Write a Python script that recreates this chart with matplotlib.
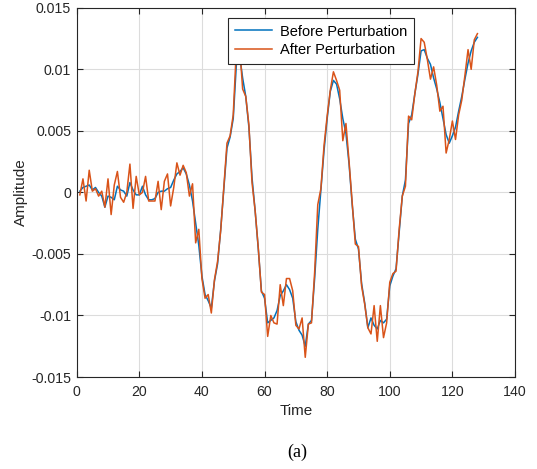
import matplotlib
matplotlib.use("Agg")
import matplotlib.pyplot as plt
import numpy as np

time = np.arange(1, 129)

before_milli = [
    0.1, 0.4, 0.5, 0.6, 0.2, 0.4, 0.0, -0.3, -1.2, -0.3,
    -0.4, -0.6, 0.5, 0.2, 0.1, -0.3, 0.8, 0.2, -0.2, -0.2,
    0.5, -0.2, -0.6, -0.6, -0.5, 0.0, 0.1, 0.1, 0.3, 0.4,
    1.0, 1.5, 1.7, 2.0, 1.5, 0.6, -0.7, -2.5, -4.3, -6.8,
    -8.3, -8.8, -9.4, -7.2, -5.8, -3.0, 0.3, 3.6, 4.5, 6.0,
    10.4, 11.2, 9.3, 7.8, 5.3, 1.2, -1.5, -4.6, -8.0, -8.6,
    -10.6, -10.4, -10.2, -9.6, -8.4, -8.0, -7.5, -7.9, -8.6, -10.5,
    -11.2, -11.6, -12.5, -10.7, -10.4, -7.0, -3.0, 0.2, 3.4, 6.0,
    8.2, 9.1, 8.8, 7.6, 6.0, 4.8, 2.3, -1.0, -3.8, -4.6,
    -7.4, -9.0, -11.0, -10.2, -10.8, -11.1, -10.4, -10.6, -10.3, -7.6,
    -6.8, -6.2, -3.2, -0.3, 1.0, 5.6, 6.3, 8.0, 9.6, 11.5,
    11.6, 10.9, 10.4, 9.3, 8.4, 7.3, 6.0, 4.7, 4.0, 4.6,
    5.3, 6.6, 7.8, 9.2, 10.5, 11.5, 12.2, 12.6,
]

after_milli = [
    -0.2, 1.1, -0.7, 1.8, 0.1, 0.3, -0.3, 0.1, -1.2, 1.1,
    -1.8, 0.6, 1.7, -0.4, -0.8, 0.0, 2.3, -1.3, 1.3, -0.2,
    0.0, 1.3, -0.7, -0.7, -0.7, 0.9, -1.4, 0.9, 1.5, -1.1,
    0.4, 2.4, 1.4, 2.2, 1.6, -0.3, 0.7, -4.1, -3.0, -7.0,
    -8.6, -8.3, -9.8, -7.1, -5.6, -3.1, 0.5, 4.0, 4.6, 6.3,
    11.7, 12.1, 8.4, 7.8, 5.5, 0.8, -1.5, -4.5, -8.1, -8.3,
    -11.7, -10.0, -10.6, -10.7, -7.5, -9.2, -7.0, -7.0, -8.0, -10.8,
    -11.1, -10.2, -13.4, -10.7, -10.6, -6.5, -1.0, 0.3, 3.8, 6.2,
    8.3, 9.8, 9.1, 8.3, 4.2, 5.6, 2.5, -0.8, -4.2, -4.4,
    -7.6, -9.1, -11.0, -11.5, -9.2, -12.1, -9.2, -11.8, -10.6, -7.3,
    -6.6, -6.4, -3.0, -0.3, 0.5, 6.2, 5.9, 8.0, 9.8, 12.5,
    12.2, 10.8, 9.2, 10.2, 8.7, 6.6, 7.0, 3.2, 4.3, 5.8,
    4.3, 6.3, 7.5, 9.5, 11.6, 10.0, 12.4, 12.9,
]

before = np.array(before_milli) * 1e-3
after = np.array(after_milli) * 1e-3

x_ticks = [0, 20, 40, 60, 80, 100, 120, 140]
y_ticks = [-0.015, -0.01, -0.005, 0, 0.005, 0.01, 0.015]
y_tick_labels = ["-0.015", "-0.01", "-0.005", "0", "0.005", "0.01", "0.015"]

plt.rcParams['font.family'] = ['Liberation Sans', 'DejaVu Sans']

fig = plt.figure(figsize=(5.37, 4.69), dpi=100)
ax = fig.add_axes([76.7 / 537, 1 - 377 / 469, (515 - 76.7) / 537, (377 - 7.8) / 469])

ax.plot(time, before, color='#0072BD', lw=1.1, label='Before Perturbation', zorder=3)
ax.plot(time, after, color='#D95319', lw=1.1, label='After Perturbation', zorder=4)

ax.set_xlim(0, 140)
ax.set_ylim(-0.015, 0.015)
ax.set_xticks(x_ticks)
ax.set_yticks(y_ticks)
ax.set_yticklabels(y_tick_labels)
ax.grid(True, color='#dcdcdc', lw=0.8)
ax.set_axisbelow(True)
ax.tick_params(direction='in', top=True, right=True, length=4, width=0.8,
               labelsize=10.2, colors='#262626')
ax.tick_params(axis='x', pad=6)
ax.tick_params(axis='y', pad=4)
for s in ax.spines.values():
    s.set_color('#262626')
    s.set_linewidth(0.8)

ax.set_xlabel('Time', fontsize=11, color='#262626', labelpad=3)
ax.set_ylabel('Amplitude', fontsize=11, color='#262626', labelpad=2)

leg = ax.legend(loc='upper left', bbox_to_anchor=((228 - 76.7) / 438.3, 1 - (18 - 7.8) / 369.2),
                fontsize=10.5, frameon=True, fancybox=False, framealpha=1,
                edgecolor='#262626', handlelength=2.6, borderpad=0.45,
                labelspacing=0.3, handletextpad=0.5, borderaxespad=0)
leg.get_frame().set_linewidth(0.8)

fig.text(297 / 537, 1 - 452 / 469, '(a)', fontsize=13, family='Liberation Serif',
         ha='center', va='center')

fig.savefig('out.png', dpi=100)
